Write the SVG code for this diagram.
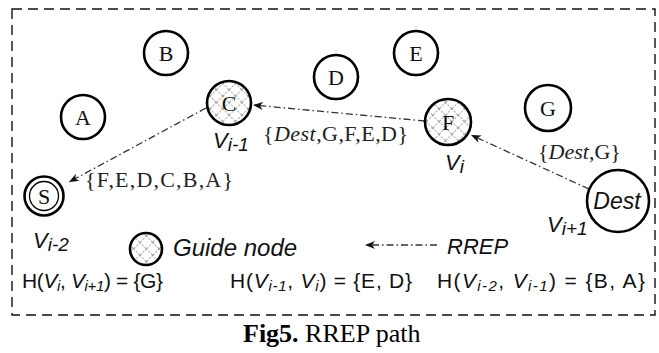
<svg xmlns="http://www.w3.org/2000/svg" width="659" height="353" viewBox="0 0 659 353">
  <style>
    .node { fill: #fff; stroke: #000; stroke-width: 2.6; }
    .guide { fill: url(#hatch); stroke: #000; stroke-width: 2.6; }
    .lbl { font-family: "Liberation Serif", "Times New Roman", serif; font-size: 22px; fill: #111; text-anchor: middle; }
    .edge-lbl { font-family: "Liberation Serif", "Times New Roman", serif; font-size: 22px; fill: #222; }
    .sans { font-family: "Liberation Sans", Arial, sans-serif; fill: #111; }
    .vlab { font-family: "Liberation Sans", Arial, sans-serif; font-style: italic; font-size: 22px; fill: #111; }
    .sub { font-size: 19px; }
    .hsub { font-size: 15px; font-style: italic; }
    .link { fill: none; stroke: #333; stroke-width: 1.3; stroke-dasharray: 7 3 1.5 3; }
  </style>
  <defs>
    <pattern id="hatch" width="9" height="9" patternUnits="userSpaceOnUse" patternTransform="rotate(45)">
      <rect width="9" height="9" fill="#fff"/>
      <line x1="0" y1="0" x2="9" y2="0" stroke="#a0a0a0" stroke-width="2" stroke-dasharray="2 1.5"/>
      <line x1="0" y1="0" x2="0" y2="9" stroke="#a0a0a0" stroke-width="2" stroke-dasharray="2 1.5"/>
    </pattern>
    <marker id="arrow" viewBox="0 0 10 8" refX="10" refY="4" markerWidth="10" markerHeight="8" markerUnits="userSpaceOnUse" orient="auto">
      <path d="M0,0 L10,4 L0,8 L3,4 Z" fill="#111"/>
    </marker>
  </defs>

  <!-- dashed frame -->
  <rect x="12" y="9" width="643" height="306" fill="none" stroke="#111" stroke-width="1.4" stroke-dasharray="10 6"/>

  <!-- connectors: reply route Dest -> F -> C -> S -->
  <g id="connectors">
    <line class="link" x1="589" y1="189" x2="471" y2="135" marker-end="url(#arrow)"/>
    <line class="link" x1="425" y1="121" x2="253" y2="105" marker-end="url(#arrow)"/>
    <line class="link" x1="206" y1="108" x2="69" y2="182" marker-end="url(#arrow)"/>
    <!-- legend arrow -->
    <line class="link" x1="437" y1="245" x2="365" y2="245" marker-end="url(#arrow)"/>
  </g>

  <g id="node-A"><circle class="node" cx="83" cy="117" r="22"/><text class="lbl" x="83" y="125">A</text></g>
  <g id="node-B"><circle class="node" cx="166" cy="53" r="22"/><text class="lbl" x="166" y="61">B</text></g>
  <g id="node-C"><circle class="guide" cx="229" cy="103" r="22"/><text class="lbl" x="229" y="111">C</text></g>
  <g id="node-D"><circle class="node" cx="336" cy="77" r="22"/><text class="lbl" x="336" y="85">D</text></g>
  <g id="node-E"><circle class="node" cx="416" cy="53" r="22"/><text class="lbl" x="416" y="61">E</text></g>
  <g id="node-F"><circle class="guide" cx="448" cy="122" r="23"/><text class="lbl" x="448" y="130">F</text></g>
  <g id="node-G"><circle class="node" cx="548" cy="108" r="23"/><text class="lbl" x="548" y="116">G</text></g>
  <g id="node-S">
    <circle class="node" cx="44" cy="196" r="19.5"/>
    <circle cx="44" cy="196" r="14.5" fill="none" stroke="#000" stroke-width="1.3"/>
    <text class="lbl" x="44" y="204">S</text>
  </g>
  <g id="node-Dest">
    <circle class="node" cx="618" cy="201" r="31"/>
    <text class="sans" x="617" y="209" font-size="23" font-style="italic" text-anchor="middle">Dest</text>
  </g>

  <!-- vertex labels -->
  <text class="vlab" x="213" y="148">V<tspan class="sub" dy="3">i-1</tspan></text>
  <text class="vlab" x="445" y="170">V<tspan class="sub" dy="3">i</tspan></text>
  <text class="vlab" x="547" y="232">V<tspan class="sub" dy="3">i+1</tspan></text>
  <text class="vlab" x="33" y="248">V<tspan class="sub" dy="3">i-2</tspan></text>

  <!-- hop sets carried on each link -->
  <text class="edge-lbl" x="263" y="141" textLength="145">{<tspan font-style="italic">Dest</tspan>,G,F,E,D}</text>
  <text class="edge-lbl" x="538" y="159">{<tspan font-style="italic">Dest</tspan>,G}</text>
  <text class="edge-lbl" x="85" y="187" textLength="148">{F,E,D,C,B,A}</text>

  <!-- legend -->
  <g id="legend-guide">
    <circle class="guide" cx="146" cy="249" r="16"/>
    <text class="sans" x="173" y="256" font-size="24" font-style="italic">Guide node</text>
  </g>
  <g id="legend-rrep">
    <text class="sans" x="447" y="254" font-size="22" font-style="italic">RREP</text>
  </g>

  <!-- hop sets between consecutive vertices -->
  <text class="sans" x="22" y="288" font-size="21" textLength="141">H(<tspan font-style="italic">V</tspan><tspan class="hsub" dy="3">i</tspan><tspan dy="-3">, </tspan><tspan font-style="italic">V</tspan><tspan class="hsub" dy="3">i+1</tspan><tspan dy="-3">) = {G}</tspan></text>
  <text class="sans" x="230" y="288" font-size="21" textLength="182">H(<tspan font-style="italic">V</tspan><tspan class="hsub" dy="3">i-1</tspan><tspan dy="-3">, </tspan><tspan font-style="italic">V</tspan><tspan class="hsub" dy="3">i</tspan><tspan dy="-3">) = {E, D}</tspan></text>
  <text class="sans" x="437" y="288" font-size="21" textLength="208">H(<tspan font-style="italic">V</tspan><tspan class="hsub" dy="3">i-2</tspan><tspan dy="-3">, </tspan><tspan font-style="italic">V</tspan><tspan class="hsub" dy="3">i-1</tspan><tspan dy="-3">) = {B, A}</tspan></text>

  <!-- caption -->
  <text x="243" y="342" font-family="Liberation Serif, 'Times New Roman', serif" font-size="26" fill="#000"><tspan font-weight="bold">Fig5.</tspan> RREP path</text>
</svg>
